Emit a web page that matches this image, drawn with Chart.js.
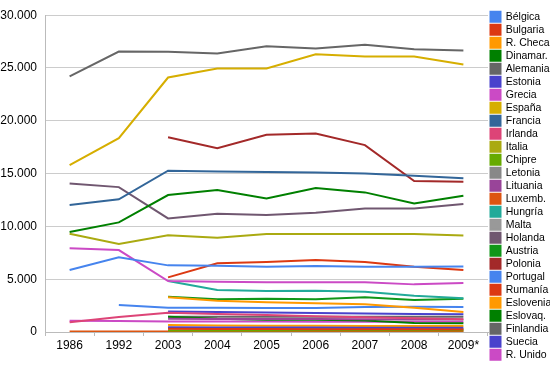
<!DOCTYPE html>
<html lang="es">
<head>
    <meta charset="UTF-8">
    <title>Evolución por país</title>
    <style>
        html, body { margin: 0; padding: 0; background: #fff; }
        #wrap { width: 550px; height: 367px; }
    </style>
</head>
<body>
    <div id="wrap"><canvas id="myChart" width="550" height="367"></canvas></div>

    <script src="https://cdnjs.cloudflare.com/ajax/libs/Chart.js/4.4.0/chart.umd.min.js"></script>
    <script>
        // years on the x axis
        var years = ['1986', '1992', '2003', '2004', '2005', '2006', '2007', '2008', '2009*'];

        // y axis ticks
        var yTicks = [0, 5000, 10000, 15000, 20000, 25000, 30000];

        var countries = ['Bélgica', 'Bulgaria', 'R. Checa', 'Dinamar.', 'Alemania', 'Estonia', 'Grecia',
            'España', 'Francia', 'Irlanda', 'Italia', 'Chipre', 'Letonia', 'Lituania', 'Luxemb.',
            'Hungría', 'Malta', 'Holanda', 'Austria', 'Polonia', 'Portugal', 'Rumanía', 'Eslovenia',
            'Eslovaq.', 'Finlandia', 'Suecia', 'R. Unido'];

        var belgica   = [5870, 7070, 6310, 6280, 6180, 6250, 6180, 6180, 6210];
        var bulgaria  = [null, null, 300, 290, 280, 270, 260, 250, 240];
        var rCheca    = [null, null, 3300, 2960, 2810, 2720, 2620, 2300, 1890];
        var dinamarca = [9460, 10380, 12970, 13440, 12650, 13630, 13220, 12180, 12900];
        var alemania  = [24200, 26560, 26550, 26370, 27070, 26850, 27190, 26780, 26660];
        var estonia   = [null, null, 440, 430, 420, 420, 410, 400, 400];
        var grecia    = [7920, 7760, 4830, 4760, 4700, 4700, 4700, 4510, 4640];
        var espana    = [15800, 18360, 24100, 24960, 24960, 26310, 26090, 26090, 25330];
        var francia   = [12020, 12560, 15270, 15190, 15140, 15100, 15020, 14800, 14550];
        var irlanda   = [920, 1420, 1830, 1700, 1600, 1500, 1400, 1300, 1200];
        var italia    = [9300, 8330, 9150, 8920, 9270, 9270, 9270, 9270, 9150];
        var chipre    = [null, null, 150, 150, 150, 160, 160, 170, 170];
        var letonia   = [null, null, 350, 340, 330, 320, 310, 300, 290];
        var lituania  = [null, null, 1250, 1240, 1230, 1220, 1200, 1190, 1180];
        var luxemb    = [50, 50, 50, 50, 50, 50, 50, 50, 50];
        var hungria   = [null, null, 4830, 3970, 3880, 3910, 3820, 3440, 3190];
        var malta     = [null, null, 80, 80, 80, 80, 80, 80, 80];
        var holanda   = [14070, 13720, 10760, 11200, 11070, 11290, 11700, 11700, 12110];
        var austria   = [null, null, 3340, 3090, 3150, 3090, 3280, 3030, 3150];
        var polonia   = [null, null, 18450, 17410, 18670, 18800, 17700, 14290, 14220];
        var portugal  = [null, 2560, 2300, 2300, 2270, 2280, 2370, 2400, 2370];
        var rumania   = [null, null, 5170, 6500, 6620, 6810, 6620, 6180, 5870];
        var eslovenia = [null, null, 660, 620, 600, 590, 580, 570, 560];
        var eslovaq   = [null, null, 1450, 1250, 1170, 1150, 1100, 850, 820];
        var finlandia = [null, null, 1450, 1450, 1450, 1450, 1450, 1450, 1450];
        var suecia    = [null, null, 1940, 1900, 1850, 1800, 1750, 1700, 1670];
        var rUnido    = [1070, 1040, 1000, 990, 990, 980, 980, 980, 980];

        var seriesValues = [belgica, bulgaria, rCheca, dinamarca, alemania, estonia, grecia, espana,
            francia, irlanda, italia, chipre, letonia, lituania, luxemb, hungria, malta, holanda,
            austria, polonia, portugal, rumania, eslovenia, eslovaq, finlandia, suecia, rUnido];

        var palette = ['#4684ee', '#dc3912', '#ff9900', '#008000', '#666666', '#4942cc', '#cb4ac5',
            '#d6ae00', '#336699', '#dd4477', '#aaaa11', '#66aa00', '#888888', '#994499', '#dd5511',
            '#22aa99', '#999999', '#705770', '#109618', '#a32929'];

        var datasets = [];
        for (var i = 0; i < countries.length; i++) {
            var c = palette[i % palette.length];
            datasets.push({
                label: countries[i],
                data: seriesValues[i],
                borderColor: c,
                backgroundColor: c,
                borderWidth: 2,
                pointRadius: 0,
                tension: 0,
                fill: false
            });
        }

        function fmt(v) {
            return String(v).replace(/\B(?=(\d{3})+(?!\d))/g, '.');
        }

        Chart.defaults.font.family = '"Liberation Sans", Arial, sans-serif';
        Chart.defaults.color = '#000';

        var ctx = document.getElementById('myChart').getContext('2d');
        var myChart = new Chart(ctx, {
            type: 'line',
            data: { labels: years, datasets: datasets },
            options: {
                responsive: false,
                animation: false,
                layout: { padding: { top: 9, right: 0, bottom: 0, left: 0 } },
                plugins: {
                    tooltip: { enabled: false },
                    legend: {
                        position: 'right',
                        align: 'start',
                        maxWidth: 62,
                        labels: {
                            boxWidth: 10,
                            boxHeight: 10,
                            padding: 2.5,
                            font: { size: 10.5 },
                            color: '#000'
                        }
                    }
                },
                scales: {
                    x: {
                        offset: true,
                        afterFit: function (scale) { scale.height = 35; },
                        border: { color: '#bbbbbb', width: 1 },
                        grid: {
                            offset: true,
                            drawOnChartArea: false,
                            drawTicks: true,
                            tickLength: 4,
                            color: '#bbbbbb'
                        },
                        ticks: { font: { size: 12 }, padding: 2, maxRotation: 0, color: '#000' }
                    },
                    y: {
                        min: 0,
                        max: 30000,
                        afterFit: function (scale) { scale.width = 45; },
                        afterBuildTicks: function (scale) {
                            scale.ticks = yTicks.map(function (v) { return { value: v }; });
                        },
                        border: { color: '#bbbbbb', width: 1 },
                        grid: { color: '#cccccc', drawTicks: false },
                        ticks: {
                            font: { size: 12 },
                            padding: 8,
                            color: '#000',
                            callback: function (v) { return fmt(v); }
                        }
                    }
                }
            }
        });
    </script>
</body>
</html>
